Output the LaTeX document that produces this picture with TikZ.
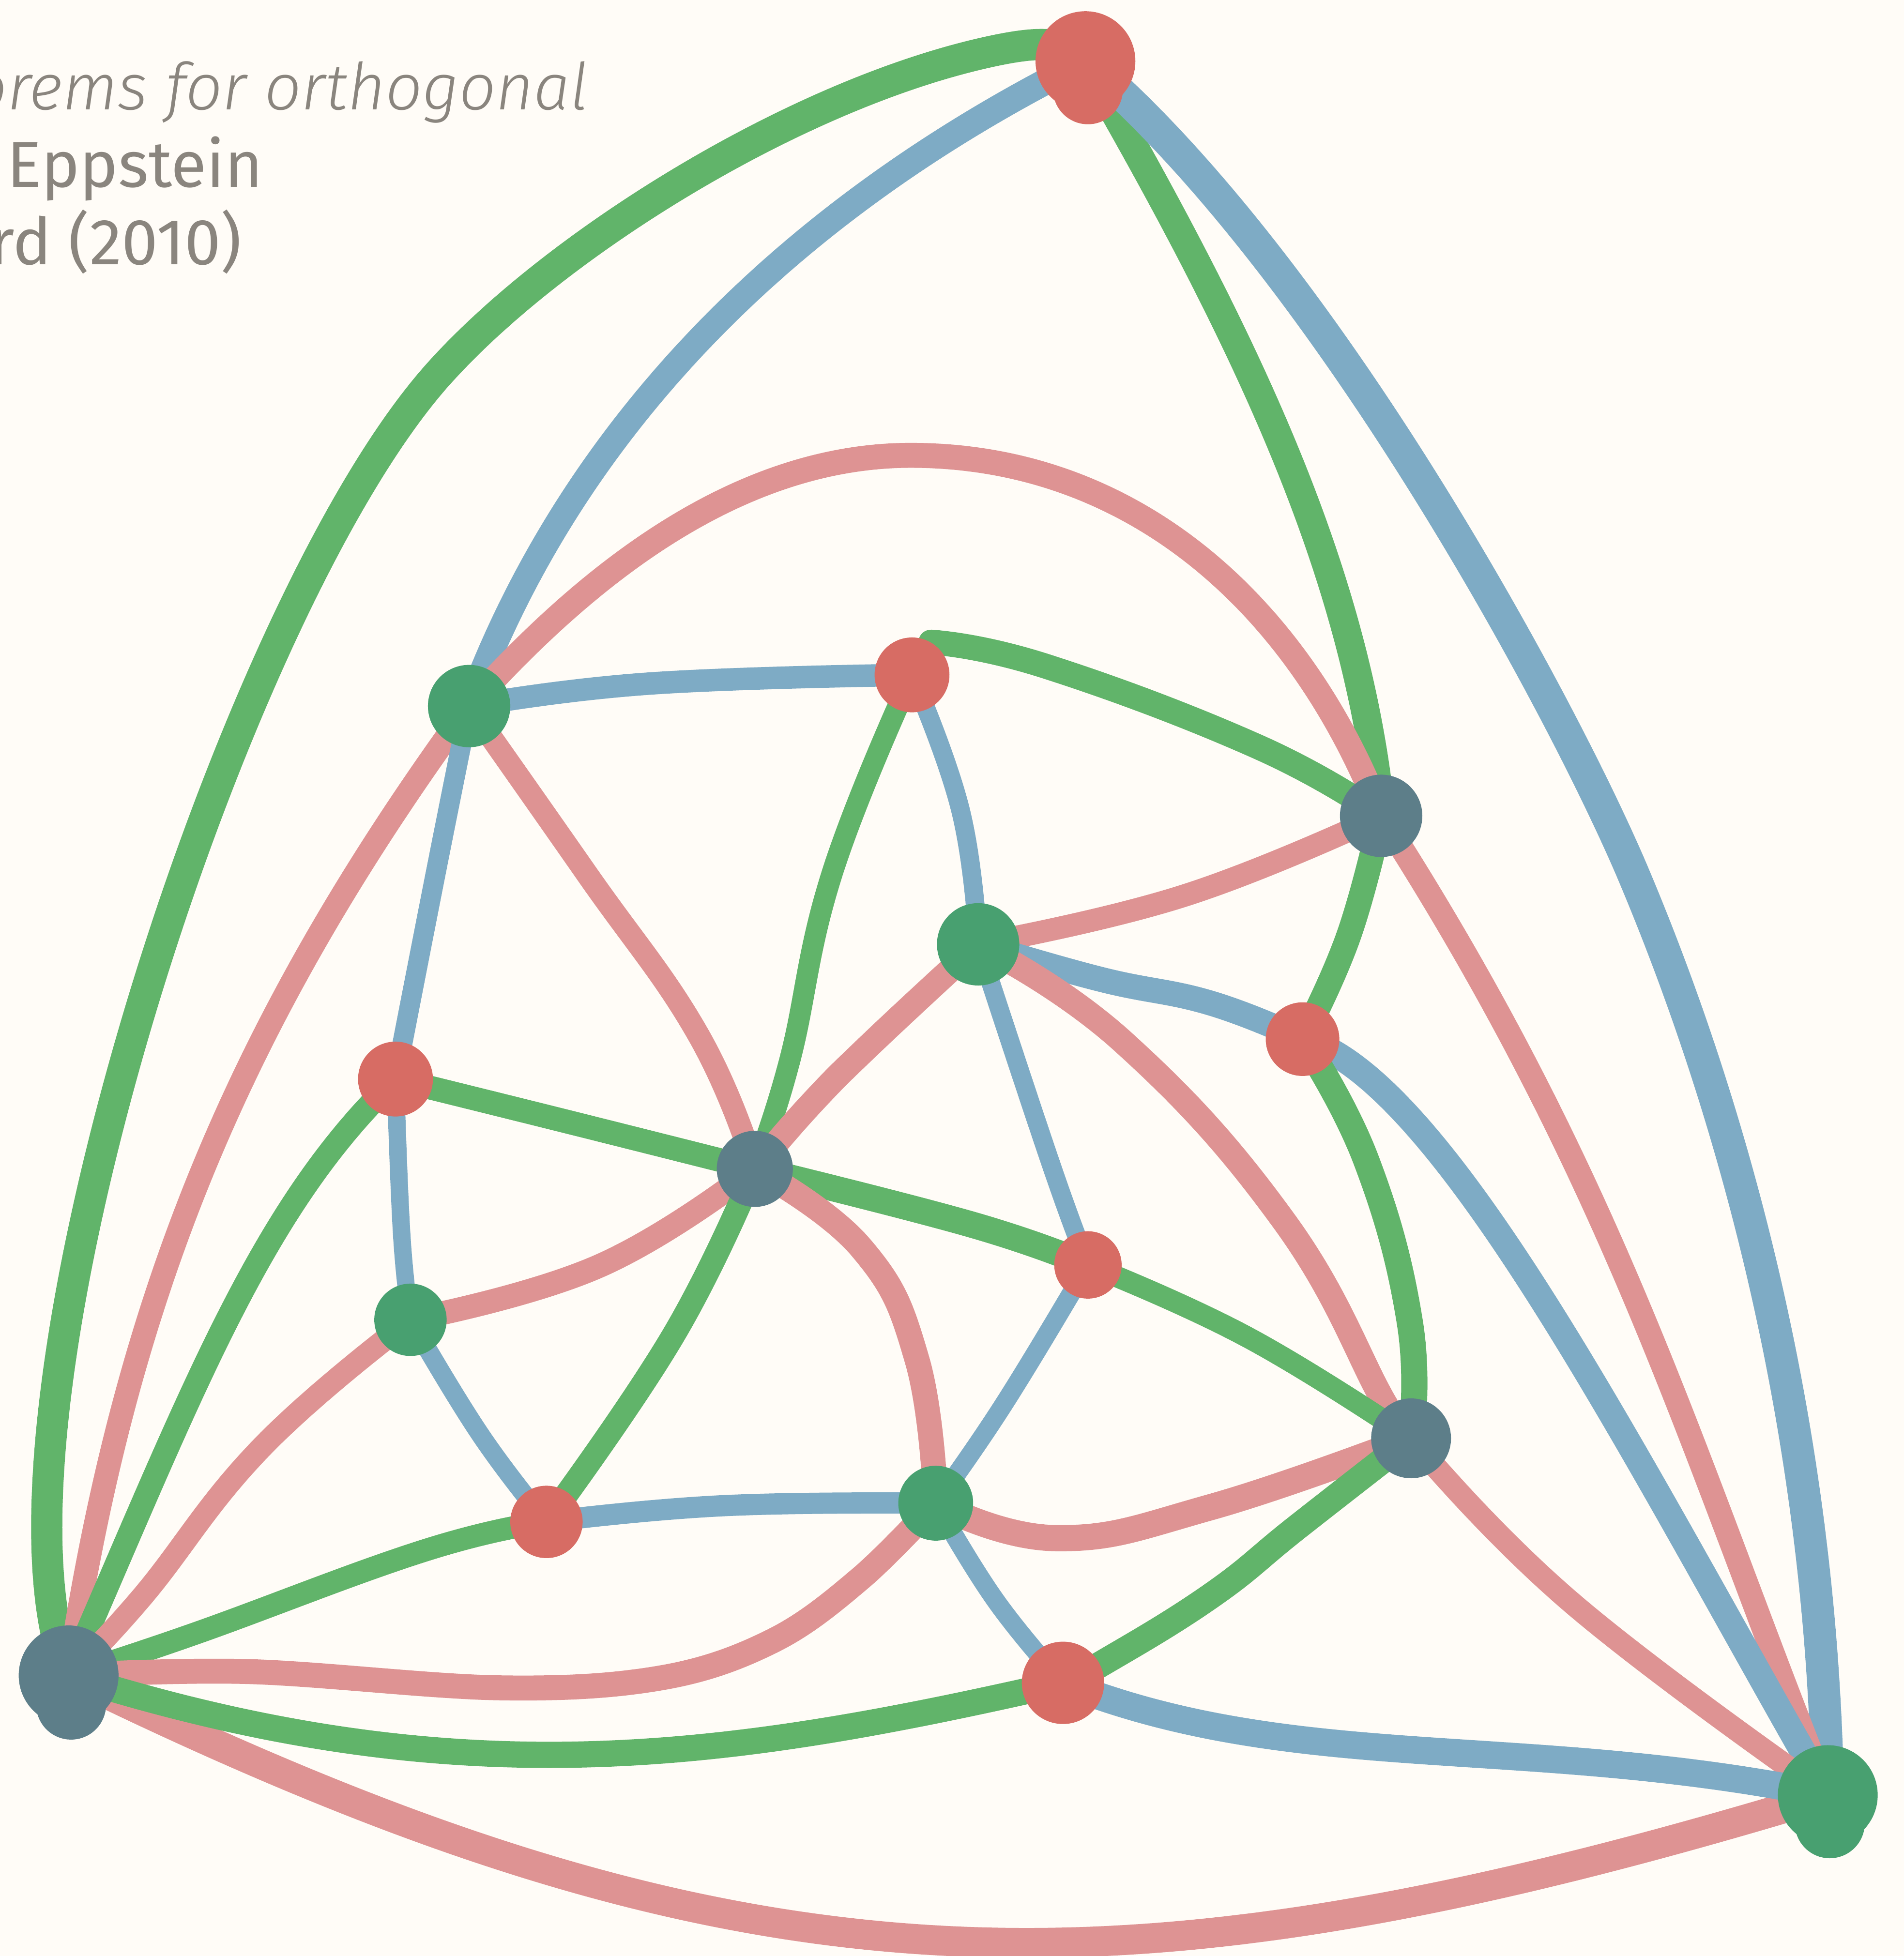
\documentclass[tikz,border=0pt]{standalone}
\usepackage{fontspec}
\newfontfamily\capfont{Fira Sans}
\newfontfamily\capitfont{Fira Sans Light Italic}
\definecolor{Gc}{HTML}{61B46A}
\definecolor{Bc}{HTML}{7EABC5}
\definecolor{Pc}{HTML}{DE9393}
\definecolor{Rv}{HTML}{D76C64}
\definecolor{Sv}{HTML}{5D7E89}
\definecolor{Gv}{HTML}{48A070}
\definecolor{paper}{HTML}{FFFCF7}
\definecolor{ink}{HTML}{8A857E}
\pgfdeclarelayer{paper}
\pgfdeclarelayer{links}
\pgfsetlayers{paper,links,main}
\tikzset{
  vtx/.style={circle, inner sep=0pt, minimum size=#1*0.05cm},
  rq/.style={vtx=#1, fill=Rv},
  sq/.style={vtx=#1, fill=Sv},
  gq/.style={vtx=#1, fill=Gv},
  lnk/.style={line width=#1*0.7113pt, line cap=round, line join=round},
  gl/.style={lnk=#1, draw=Gc},
  bl/.style={lnk=#1, draw=Bc},
  pl/.style={lnk=#1, draw=Pc},
  note/.style={text=ink, inner sep=0pt, anchor=base east},
}

\begin{document}
\begin{tikzpicture}[x=0.025cm, y=-0.025cm]
  \useasboundingbox (0,0) rectangle (1526,1568);
  \begin{pgfonlayer}{paper}
    \fill[paper] (0,0) rectangle (1526,1568);
  \end{pgfonlayer}

  % caption, cut at the left margin
  \node[note, font=\capitfont\fontsize{37}{44}\selectfont] (cap1) at (472,88) {theorems for orthogonal};
  \node[note, font=\capfont\fontsize{37}{44}\selectfont] (cap2) at (211,150) {Eppstein};
  \node[note, font=\capfont\fontsize{37}{44}\selectfont] (cap3) at (194,212) {Mumford (2010)};

  % outer triangle
  \node[rq=40] (vT) at (870,49) {};
  \node[sq=40] (vL) at (55,1343) {};
  \node[gq=40] (vR) at (1465,1439) {};
  \fill[Rv] (872,71.6) circle[radius=0.7cm];
  \fill[Sv] (57,1366.5) circle[radius=0.7cm];
  \fill[Gv] (1466.6,1461.6) circle[radius=0.7cm];

  % inner vertices
  \node[gq=33] (v1) at (376,566) {};
  \node[rq=30] (v2) at (731,541) {};
  \node[sq=33] (v3) at (1107,654) {};
  \node[gq=33] (v4) at (784,757) {};
  \node[rq=29.5] (v5) at (1044,833) {};
  \node[rq=30] (v6) at (317,865) {};
  \node[sq=30.5] (v7) at (605,937) {};
  \node[rq=27] (v8) at (872,1014) {};
  \node[gq=29] (v9) at (329,1058) {};
  \node[sq=32] (v10) at (1131,1153) {};
  \node[rq=29] (v11) at (438,1220) {};
  \node[gq=30] (v12) at (750,1205) {};
  \node[rq=33] (v13) at (852,1349) {};

  \begin{pgfonlayer}{links}
    % outer edges
    \draw[gl=25] (vT.center) .. controls (855,32) and (830,34) .. (800,40)
                 .. controls (643,72) and (447,194) .. (353,298)
                 .. controls (185,483) and (-25,1143) .. (vL.center);
    \draw[bl=21] (vT.center) .. controls (645,161) and (463,331) .. (v1.center);
    \draw[gl=23] (vT.center) .. controls (995,266) and (1087,454) .. (v3.center);
    \draw[bl=26] (vT.center) .. controls (1060,211) and (1249,560) .. (1308,698)
                 .. controls (1386,882) and (1460,1139) .. (vR.center);
    \draw[pl=24] (vL.center) .. controls (595,1607) and (891,1613) .. (vR.center);

    % edges at the left corner
    \draw[pl=19] (vL.center) .. controls (100,1046) and (187,825) .. (v1.center);
    \draw[gl=19] (vL.center) .. controls (155,1113) and (209,968) .. (v6.center);
    \draw[pl=18] plot[smooth, tension=0.75] coordinates {(vL.center) (114,1280) (210,1160) (v9.center)};
    \draw[gl=18] plot[smooth, tension=0.75] coordinates {(vL.center) (155,1310) (340,1243) (v11.center)};
    \draw[pl=20] plot[smooth, tension=0.6] coordinates {(vL.center) (200,1340) (400,1353) (530,1345) (620,1315) (690,1265) (v12.center)};
    \draw[gl=21] (vL.center) .. controls (368,1442) and (580,1411) .. (v13.center);

    % edges at the right corner
    \draw[pl=19] (v3.center) .. controls (1296,948) and (1354,1160) .. (vR.center);
    \draw[bl=21] (v5.center) .. controls (1159,865) and (1315,1178) .. (vR.center);
    \draw[pl=18] plot[smooth, tension=0.75] coordinates {(v10.center) (1260,1285) (vR.center)};
    \draw[bl=22] (v13.center) .. controls (1038,1423) and (1220,1389) .. (vR.center);

    % inner edges
    \draw[pl=20] (v1.center) .. controls (456,477) and (580,365) .. (730,365)
                 .. controls (910,365) and (1042,487) .. (v3.center);
    \draw[bl=18] plot[smooth, tension=0.75] coordinates {(v1.center) (520,548) (v2.center)};
    \draw[bl=16] plot[smooth, tension=0.75] coordinates {(v1.center) (349,701) (v6.center)};
    \draw[pl=18] plot[smooth, tension=0.75] coordinates {(v1.center) (470,700) (560,830) (v7.center)};
    \draw[gl=20] plot[smooth, tension=0.75] coordinates {(v2.60) (838,534) (1009,599) (v3.center)};
    \draw[gl=17] plot[smooth, tension=0.75] coordinates {(v2.center) (667,700) (633,850) (v7.center)};
    \draw[bl=15] plot[smooth, tension=0.75] coordinates {(v2.center) (770,650) (v4.center)};
    \draw[pl=18] plot[smooth, tension=0.75] coordinates {(v4.center) (949,718) (v3.center)};
    \draw[gl=20] plot[smooth, tension=0.75] coordinates {(v3.center) (1081,750) (v5.center)};
    \draw[bl=20] plot[smooth, tension=0.75] coordinates {(v4.center) (882,785) (970,804) (v5.center)};
    \draw[pl=20] plot[smooth, tension=0.75] coordinates {(v4.center) (700,835) (650,885) (v7.center)};
    \draw[bl=15] plot[smooth, tension=0.75] coordinates {(v4.center) (843,935) (v8.center)};
    \draw[pl=20] plot[smooth, tension=0.75] coordinates {(v4.center) (900,835) (1030,980) (1110,1125) (v10.center)};
    \draw[gl=21] plot[smooth, tension=0.75] coordinates {(v5.center) (1095,930) (1130,1060) (v10.center)};
    \draw[gl=19] plot[smooth, tension=0.75] coordinates {(v6.center) (450,898) (v7.center)};
    \draw[bl=14] plot[smooth, tension=0.75] coordinates {(v6.center) (322,990) (v9.center)};
    \draw[gl=21] plot[smooth, tension=0.75] coordinates {(v7.center) (780,982) (v8.center)};
    \draw[pl=19] plot[smooth, tension=0.75] coordinates {(v7.center) (480,1015) (v9.center)};
    \draw[gl=19] plot[smooth, tension=0.75] coordinates {(v7.center) (540,1070) (v11.center)};
    \draw[pl=20] plot[smooth, tension=0.75] coordinates {(v7.center) (690,1000) (735,1090) (v12.center)};
    \draw[gl=17] plot[smooth, tension=0.75] coordinates {(v8.center) (1000,1072) (v10.center)};
    \draw[bl=15] plot[smooth, tension=0.75] coordinates {(v8.center) (805,1125) (v12.center)};
    \draw[bl=15] plot[smooth, tension=0.75] coordinates {(v9.center) (385,1150) (v11.center)};
    \draw[pl=21] plot[smooth, tension=0.75] coordinates {(v12.center) (846,1233) (971,1208) (v10.center)};
    \draw[gl=21] plot[smooth, tension=0.75] coordinates {(v10.center) (1040,1224) (971,1279) (884,1333) (v13.center)};
    \draw[bl=17] plot[smooth, tension=0.75] coordinates {(v11.center) (580,1207) (v12.center)};
    \draw[bl=15] plot[smooth, tension=0.75] coordinates {(v12.center) (798,1283) (v13.center)};
  \end{pgfonlayer}
\end{tikzpicture}
\end{document}
